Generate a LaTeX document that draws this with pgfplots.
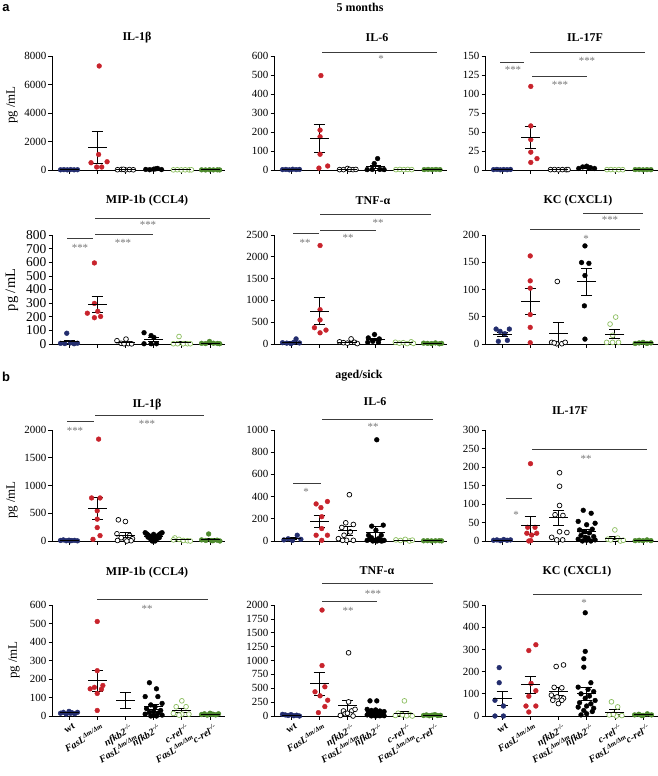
\documentclass[border=0pt]{standalone}
\usepackage{pgfplots}
\pgfplotsset{compat=1.18}
\usepackage{fontspec}
\setmainfont{Liberation Serif}
\setsansfont{Liberation Sans}
\definecolor{cwt}{RGB}{35,45,110}
\definecolor{cred}{RGB}{200,35,44}
\definecolor{cgo}{RGB}{140,190,95}
\definecolor{cgf}{RGB}{78,138,46}
\definecolor{cstar}{RGB}{120,120,120}
\definecolor{cline}{RGB}{60,60,60}
\pgfplotsset{
 cyto/.style={scale only axis, width=173bp, anchor=south west,
  axis lines=left, axis line style={-, line width=0.8bp, black},
  xmin=-0.603, xmax=5.53, ymin=0, xtick={0,1,2,3,4,5}, xticklabels={{},{},{},{},{},{}},
  tick align=outside, major tick length=3.5bp, tick style={line width=0.7bp, black},
  tick label style={font=\fontsize{11}{12}\selectfont},
  /pgf/number format/1000 sep={}, /pgf/number format/assume math mode=true,
  scaled y ticks=false, clip=false, yticklabel style={inner sep=2bp}},
 pwt/.style={only marks, mark=*, mark size=2.4bp, color=cwt},
 pred/.style={only marks, mark=*, mark size=2.4bp, color=cred},
 pno/.style={only marks, mark=*, mark size=2.4bp, color=black, mark options={fill=white, line width=0.7bp}},
 pnf/.style={only marks, mark=*, mark size=2.4bp, color=black},
 pco/.style={only marks, mark=*, mark size=2.4bp, color=cgo, mark options={fill=white, line width=0.7bp}},
 pcf/.style={only marks, mark=*, mark size=2.4bp, color=cgf},
 msem/.style={black, only marks, mark=-, mark size=9.5bp, mark options={line width=0.9bp},
  error bars/.cd, y dir=both, y explicit, error bar style={line width=0.8bp, black},
  error mark options={rotate=90, mark size=5.5bp, line width=0.8bp, black}},
 xlab/.style={xticklabels={{\upshape wt},{FasL\textsuperscript{Δm/Δm}},{nfkb2\textsuperscript{-/-}\\FasL\textsuperscript{Δm/Δm}},{nfkb2\textsuperscript{-/-}},{c-rel\textsuperscript{-/-}\\FasL\textsuperscript{Δm/Δm}},{c-rel\textsuperscript{-/-}}},
  xticklabel style={xshift=4bp, yshift=-3bp, rotate=30, anchor=north east, align=right, inner sep=0.5bp, font=\fontsize{10}{12.5}\selectfont\bfseries\itshape}}
}
\newcommand{\W}[1]{\addplot[pwt] coordinates {#1};}
\newcommand{\R}[1]{\addplot[pred] coordinates {#1};}
\newcommand{\NO}[1]{\addplot[pno] coordinates {#1};}
\newcommand{\NF}[1]{\addplot[pnf] coordinates {#1};}
\newcommand{\CO}[1]{\addplot[pco] coordinates {#1};}
\newcommand{\CF}[1]{\addplot[pcf] coordinates {#1};}
\newcommand{\M}[3]{\addplot[msem] coordinates {(#1,#2) +- (0,#3)};}
\newcommand{\SL}[3]{\draw[cline, line width=0.8bp] (#1,#3) -- (#2,#3);}
\newcommand{\ST}[3]{\node[anchor=base, inner sep=0pt, text=cstar, font=\fontsize{11}{11}\selectfont] at ({#1},{#2+5.5}) {#3};}
\newcommand{\TT}[3]{\node[font=\fontsize{12}{14}\selectfont\bfseries] at (#1,#2) {#3};}
\newcommand{\YL}[3][13]{\node[rotate=90, font=\fontsize{#1}{15}\selectfont] at (#2,#3) {pg /mL};}
\begin{document}
\begin{tikzpicture}
\useasboundingbox (0,0) rectangle (658bp,-776bp);
% ---------------- row 1 ----------------
\begin{axis}[cyto, at={(52bp,-170bp)}, height=114bp, ymax=8000, ytick={0,2000,4000,6000,8000}]
\W{(-0.3,15) (-0.18,25) (-0.06,10) (0.06,30) (0.18,12) (0.3,20)} \M{0}{19}{3}
\R{(1.07,7300) (1.05,1090) (0.78,510) (1.35,580) (0.98,210) (1.16,210)} \M{1}{1600}{1120}
\NO{(1.72,20) (1.86,40) (2,10) (2.14,30) (2.28,15) (1.93,50)} \M{2}{27}{6}
\NF{(2.72,40) (2.86,20) (3,60) (3.14,110) (3.28,30) (3.07,80)} \M{3}{57}{14}
\CO{(3.7,10) (3.84,20) (3.98,5) (4.12,15) (4.26,8) (4.34,12)} \M{4}{12}{2}
\CF{(4.7,10) (4.84,5) (4.98,15) (5.12,8) (5.26,12) (5.34,6)} \M{5}{9}{2}
\end{axis}
\begin{axis}[cyto, at={(274bp,-170bp)}, height=114bp, ymax=600, ytick={0,100,...,600}]
\W{(-0.3,2) (-0.18,3) (-0.06,1) (0.06,4) (0.18,2) (0.3,3)} \M{0}{2.5}{0.5}
\R{(1.06,497) (1.03,210) (1.03,175) (1.03,83) (1.3,21) (0.99,10)} \M{1}{166}{75}
\NO{(1.72,2) (1.86,2) (2,8) (2.08,3) (2.2,2) (2.3,3)} \M{2}{3}{1}
\NF{(3.07,60) (2.95,34) (2.7,2) (2.88,3) (3.15,3) (3.3,2)} \M{3}{17}{9}
\CO{(3.72,2) (3.86,3) (4,2) (4.14,3) (4.28,2)} \M{4}{2.4}{0.3}
\CF{(4.72,2) (4.86,3) (5,2) (5.14,3) (5.28,2)} \M{5}{2.4}{0.3}
\end{axis}
\begin{axis}[cyto, at={(485bp,-170bp)}, height=114bp, ymax=150, ytick={0,25,...,150}]
\W{(-0.3,0.5) (-0.18,0.8) (-0.06,0.3) (0.06,0.6) (0.18,0.4) (0.3,0.7)} \M{0}{0.5}{0.1}
\R{(1.02,110) (1.02,58) (1.02,40) (1.02,23.5) (1.24,15) (1.02,10)} \M{1}{43}{15}
\NO{(1.72,0.5) (1.86,0.6) (2,0.3) (2.14,0.5) (2.28,0.4) (2.34,0.6)} \M{2}{0.5}{0.1}
\NF{(2.72,2) (2.86,4) (3,5) (3.14,3) (3.28,2) (3.07,3)} \M{3}{3.2}{0.5}
\CO{(3.72,0.5) (3.86,0.6) (4,0.3) (4.14,0.5) (4.28,0.4)} \M{4}{0.5}{0.1}
\CF{(4.72,0.5) (4.86,0.6) (5,0.3) (5.14,0.5) (5.28,0.4)} \M{5}{0.5}{0.1}
\end{axis}
% ---------------- row 2 ----------------
\begin{axis}[cyto, at={(52bp,-344bp)}, height=109bp, ymax=800, ytick={0,100,...,800}, tick label style={font=\fontsize{13.5}{14}\selectfont}]
\W{(-0.08,79) (-0.3,5) (-0.15,3) (0.05,8) (0.18,2) (0.3,6)} \M{0}{17}{12}
\R{(0.9,595) (0.9,298) (1.02,240) (0.65,226) (1.12,202) (0.9,193)} \M{1}{292}{60}
\NO{(2.02,36) (1.7,24) (1.85,5) (2.1,3) (2.22,1) (1.95,2)} \M{2}{12}{6}
\NF{(2.66,83) (2.91,62) (3.01,48) (2.66,2) (2.91,2) (3.1,2)} \M{3}{33}{15}
\CO{(3.9,55) (3.7,2) (3.85,2) (4.05,2) (4.2,2) (4.3,2)} \M{4}{11}{9}
\CF{(4.98,19) (4.7,5) (4.84,3) (5.12,6) (5.26,4) (5.34,2)} \M{5}{6.5}{3}
\end{axis}
\begin{axis}[cyto, at={(274bp,-344bp)}, height=109bp, ymax=2500, ytick={0,500,...,2500}]
\W{(0.18,117) (-0.3,30) (-0.15,20) (0,10) (0.1,40) (0.3,25)} \M{0}{40}{16}
\R{(1.03,2259) (1.03,787) (1.03,553) (0.83,374) (1.24,319) (1.03,257)} \M{1}{758}{310}
\NO{(2.13,117) (1.72,50) (1.86,30) (2,20) (2.25,40) (2.35,10)} \M{2}{45}{16}
\NF{(2.96,218) (2.74,140) (3.13,117) (2.9,62) (3.1,39) (2.72,39)} \M{3}{103}{28}
\CO{(3.7,40) (3.84,20) (3.98,30) (4.12,10) (4.26,50) (4.34,15)} \M{4}{28}{6}
\CF{(4.7,20) (4.84,15) (4.98,10) (5.12,25) (5.26,5) (5.34,15)} \M{5}{15}{3}
\end{axis}
\begin{axis}[cyto, at={(485bp,-344bp)}, height=109bp, ymax=200, ytick={0,50,...,200}]
\W{(-0.21,27.4) (-0.07,23.2) (0.1,18.9) (0.26,27.4) (-0.13,4.9) (0.19,6.7)} \M{0}{18}{4}
\R{(1,161.6) (1,115.9) (1,102.4) (1,54) (1,30.5) (1,2.4)} \M{1}{78}{24}
\NO{(1.96,114.7) (1.76,3) (1.94,0.5) (2.12,0.5) (2.24,3) (1.85,2)} \M{2}{20}{19}
\NF{(2.94,180) (2.82,149.5) (3.08,148) (2.94,125.7) (2.92,70) (2.94,9)} \M{3}{114}{25}
\CO{(3.83,36.6) (4.03,49.4) (3.92,16) (3.71,3) (3.92,3) (4.13,3)} \M{4}{18}{8}
\CF{(4.72,1) (4.86,2) (5,3) (5.14,1) (5.28,2)} \M{5}{2}{0.5}
\end{axis}
% ---------------- row 3 ----------------
\begin{axis}[cyto, at={(52bp,-541bp)}, height=111bp, ymax=2000, ytick={0,500,...,2000}]
\W{(-0.3,10) (-0.2,20) (-0.1,5) (0,15) (0.1,8) (0.2,12) (0.3,3) (0.05,5)} \M{0}{10}{2}
\R{(1.05,1836) (0.8,776) (1.1,776) (1,545) (1,394) (1,242) (1.1,97) (0.85,30)} \M{1}{587}{205}
\NO{(1.75,382) (2,351) (1.7,130) (2.15,100) (1.85,60) (2.25,40) (2,20) (1.72,10) (2.2,5) (2.05,0)} \M{2}{105}{45}
\NF{(2.7,150) (3.3,150) (2.75,130) (3.25,135) (2.8,110) (3.2,115) (2.85,90) (3.15,95) (2.9,70) (3.1,75) (3,120) (3,90) (2.95,50) (3.05,55) (3,30) (2.9,30) (3.1,25) (3,10) (2.95,0) (3.05,0) (3,60) (2.8,70) (3.2,60)} \M{3}{75}{10}
\CO{(3.75,55) (3.9,30) (4.05,10) (4.2,5) (4.3,0) (3.7,20)} \M{4}{20}{9}
\CF{(4.95,127) (4.7,20) (4.85,10) (5.1,5) (5.25,15) (5.35,0) (5.05,8)} \M{5}{26}{16}
\end{axis}
\begin{axis}[cyto, at={(274bp,-541bp)}, height=111bp, ymax=1000, ytick={0,200,...,1000}]
\W{(0.22,52) (-0.25,10) (-0.1,20) (0.05,5) (0.35,15)} \M{0}{20}{8}
\R{(0.89,334) (1.29,356) (1.06,301) (1.09,219) (1.09,112) (0.89,52) (1.29,52) (1.09,6)} \M{1}{179}{52}
\NO{(2.07,417) (1.94,164) (2.21,149) (1.8,122) (2.1,82) (1.88,52) (1.68,21) (1.97,6) (2.21,6) (1.83,6)} \M{2}{95}{40}
\NF{(3.04,912) (2.86,134) (3.27,143) (3.01,97) (2.75,52) (3.2,52) (2.8,21) (3.1,21) (2.95,6) (3.3,6) (2.7,6) (3.05,0) (3.15,10) (2.85,30) (2.9,0) (3.2,0) (3,3) (3.25,2)} \M{3}{79}{52}
\CO{(3.72,10) (3.88,5) (4.05,15) (4.2,0) (4.3,8)} \M{4}{8}{3}
\CF{(4.7,2) (4.84,3) (4.98,1) (5.12,2) (5.26,3) (5.34,1)} \M{5}{2}{0.5}
\end{axis}
\begin{axis}[cyto, at={(485bp,-541bp)}, height=111bp, ymax=300, ytick={0,50,...,300}]
\W{(-0.3,2) (-0.18,3) (-0.06,1) (0.06,4) (0.18,2) (0.3,3)} \M{0}{2.5}{0.5}
\R{(1.01,209) (0.91,37) (1.17,37) (0.88,21) (1.23,21) (1.05,16) (1.02,1) (0.95,0)} \M{1}{42}{25}
\NO{(2.04,184.5) (2.04,148) (2.04,96) (1.88,71) (2.16,69) (2.04,25) (2.3,23) (1.76,10) (1.94,3) (2.15,3)} \M{2}{63}{20}
\NF{(2.88,83) (3.16,75) (2.7,53) (3,44) (3.3,48) (2.75,30) (3.2,32) (2.9,25) (3.1,22) (2.8,15) (3.25,12) (2.95,10) (3.05,8) (2.7,5) (3.3,3) (3,2) (2.85,0) (3.15,0)} \M{3}{26}{5}
\CO{(4,30) (3.75,5) (3.85,3) (4.1,8) (4.2,0) (4.3,2)} \M{4}{8}{5}
\CF{(4.72,1) (4.86,2) (5,1) (5.14,3) (5.28,1)} \M{5}{1.6}{0.4}
\end{axis}
% ---------------- row 4 ----------------
\begin{axis}[cyto, xlab, at={(52bp,-716bp)}, height=111bp, ymax=600, ytick={0,100,...,600}]
\W{(-0.3,15) (-0.2,20) (-0.1,10) (0,25) (0.1,18) (0.2,12) (0.3,20) (0.05,15)} \M{0}{17}{2}
\R{(1,511) (1,245) (1.2,165) (0.9,155) (0.75,147) (1.15,145) (1,122) (1,30)} \M{1}{190}{55}
\M{2}{85}{42}
\NF{(2.85,180) (3.1,147) (2.7,105) (3.15,105) (3.3,68) (2.9,60) (3.05,50) (2.75,40) (3.25,30) (3,25) (2.85,20) (3.15,15) (2.7,10) (3.3,5) (3,3) (2.9,0) (3.1,0)} \M{3}{50}{14}
\CO{(4,82) (3.8,50) (4.15,50) (3.7,14) (4,10) (4.25,10) (3.9,5)} \M{4}{31}{11}
\CF{(4.7,8) (4.8,12) (4.9,5) (5,15) (5.1,10) (5.2,6) (5.3,12) (5.05,9)} \M{5}{10}{1.5}
\end{axis}
\begin{axis}[cyto, xlab, at={(274bp,-716bp)}, height=111bp, ymax=2000, ytick={0,250,...,2000}]
\W{(-0.3,30) (-0.2,20) (-0.1,10) (0,25) (0.1,5) (0.2,15) (0.3,0)} \M{0}{15}{4}
\R{(1.1,1909) (1.1,909) (1.2,527) (0.85,436) (1.03,364) (1.3,285) (1.2,170) (0.97,61)} \M{1}{583}{205}
\NO{(2.04,1139) (2.04,255) (1.86,91) (2.15,91) (2.27,120) (1.92,40) (2.1,30) (1.75,10) (2,50) (2.2,0)} \M{2}{182}{106}
\NF{(2.8,273) (3.04,273) (2.7,120) (2.85,100) (3,110) (3.15,90) (3.3,80) (2.75,70) (2.9,60) (3.1,65) (3.25,50) (2.8,40) (2.95,35) (3.05,30) (3.2,25) (2.7,20) (2.9,15) (3.1,10) (3.3,5) (3,0) (2.85,2) (3.15,3)} \M{3}{70}{18}
\CO{(4.02,273) (3.8,50) (4.2,30) (3.7,10) (4.1,5) (4.3,0) (3.95,20)} \M{4}{55}{37}
\CF{(4.7,10) (4.8,20) (4.9,5) (5,15) (5.1,25) (5.2,8) (5.3,12)} \M{5}{14}{3}
\end{axis}
\begin{axis}[cyto, xlab, at={(485bp,-716bp)}, height=111bp, ymax=500, ytick={0,100,...,500}]
\W{(-0.1,218) (-0.1,150) (-0.25,71) (0.05,45) (-0.25,0) (0.05,0)} \M{0}{81}{32}
\R{(1.2,321) (0.95,295) (1.03,147) (1.2,114) (0.95,89) (0.85,45) (1.2,45) (0.95,18)} \M{1}{140}{40}
\NO{(2.18,230) (1.92,223) (1.85,129) (2.12,127) (1.75,94) (1.95,86) (2.18,80) (1.8,71) (2.12,71) (2,56)} \M{2}{112}{18}
\NF{(2.95,465) (2.95,291) (2.9,258) (2.9,220) (3.15,150) (2.7,130) (3.05,120) (3.25,110) (2.8,100) (3.1,90) (2.95,80) (3.3,70) (2.75,60) (3.15,55) (3,45) (2.7,40) (3.25,35) (2.9,25) (3.2,20) (3,10) (2.8,5)} \M{3}{101}{30}
\CO{(3.88,64) (4.1,41) (3.8,5) (4.05,0) (4.25,2) (3.95,8)} \M{4}{17}{11}
\CF{(4.7,5) (4.85,8) (5,3) (5.15,10) (5.3,5) (4.95,2)} \M{5}{5}{1}
\end{axis}
% ---------------- annotations ----------------
\begin{scope}[x=1bp, y=-1bp]
\node[font=\fontsize{13}{14}\selectfont\sffamily\bfseries] at (6,8) {a};
\node[font=\fontsize{13}{14}\selectfont\sffamily\bfseries] at (6,377) {b};
\TT{360}{7}{5 months}
\TT{359}{376}{aged/sick}
\TT{137}{38}{IL-1β} \TT{377}{38}{IL-6} \TT{585}{38}{IL-17F}
\TT{147}{201}{MIP-1b (CCL4)} \TT{373}{201}{TNF-α} \TT{578}{201}{KC (CXCL1)}
\TT{147}{405}{IL-1β} \TT{375}{402}{IL-6} \TT{570}{411}{IL-17F}
\TT{147}{573}{MIP-1b (CCL4)} \TT{377}{571}{TNF-α} \TT{577}{572}{KC (CXCL1)}
\YL{12}{105} \YL[14.5]{12}{290} \YL{12}{500} \YL{14}{660}
% a IL-6
\SL{322}{437}{52} \ST{381}{57}{*}
% a IL-17F
\SL{500}{524}{62} \ST{513}{68}{***}
\SL{530}{645}{52} \ST{587}{59}{***}
\SL{532}{587}{76} \ST{560}{83}{***}
% a MIP
\SL{67}{93}{238} \ST{80}{246}{***}
\SL{95}{210}{218} \ST{148}{223}{***}
\SL{95}{153}{234} \ST{123}{241}{***}
% a TNF
\SL{293}{319}{233} \ST{305}{241}{**}
\SL{320}{431}{214} \ST{378}{221}{**}
\SL{320}{376}{230} \ST{348}{236}{**}
% a KC
\SL{530}{640}{229} \ST{586}{237}{*}
\SL{583}{643}{213} \ST{610}{218}{***}
% b IL-1b
\SL{67}{94}{421} \ST{75}{429}{***}
\SL{95}{204}{415} \ST{147}{422}{***}
% b IL-6
\SL{293}{321}{483} \ST{306}{490}{*}
\SL{322}{433}{419} \ST{373}{425}{**}
% b IL-17F
\SL{506}{532}{498} \ST{516}{513}{*}
\SL{532}{647}{449} \ST{586}{457}{**}
% b MIP
\SL{97}{208}{599} \ST{147}{607}{**}
% b TNF
\SL{322}{433}{583} \ST{373}{592}{***}
\SL{322}{377}{601} \ST{348}{609}{**}
% b KC
\SL{533}{642}{594} \ST{584}{601}{*}
\end{scope}
\end{tikzpicture}
\end{document}
